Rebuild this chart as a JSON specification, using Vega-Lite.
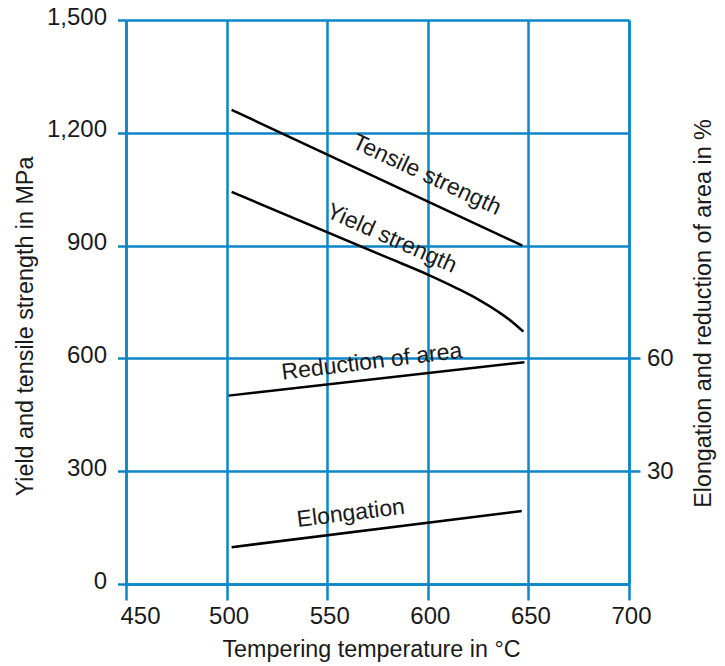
{
  "$schema": "https://vega.github.io/schema/vega-lite/v6.json",
  "width": 503,
  "height": 564,
  "autosize": "none",
  "padding": {"left": 126, "top": 20, "right": 96, "bottom": 82},
  "background": "white",
  "config": {
    "font": "Liberation Sans",
    "view": {"stroke": null},
    "axis": {
      "domainColor": "#0b87c9",
      "domainWidth": 2.5,
      "gridColor": "#0b87c9",
      "gridWidth": 2.5,
      "gridOpacity": 1,
      "tickColor": "#0b87c9",
      "tickWidth": 2.5,
      "labelFont": "Liberation Sans",
      "labelFontSize": 24,
      "labelColor": "#1a1a1a",
      "labelFlush": false,
      "labelOverlap": false,
      "titleFont": "Liberation Sans",
      "titleFontSize": 23.3,
      "titleFontWeight": "normal",
      "titleColor": "#1a1a1a"
    }
  },
  "datasets": {
    "strength": [
      {"series": "Tensile strength", "temp": 502.5, "value": 1261},
      {"series": "Tensile strength", "temp": 647, "value": 900},
      {"series": "Yield strength", "temp": 502.5, "value": 1043},
      {"series": "Yield strength", "temp": 580, "value": 868},
      {"series": "Yield strength", "temp": 600, "value": 823},
      {"series": "Yield strength", "temp": 615, "value": 785},
      {"series": "Yield strength", "temp": 625, "value": 757},
      {"series": "Yield strength", "temp": 635, "value": 724},
      {"series": "Yield strength", "temp": 642, "value": 697},
      {"series": "Yield strength", "temp": 647.5, "value": 671}
    ],
    "ductility": [
      {"series": "Reduction of area", "temp": 501, "value": 50.1},
      {"series": "Reduction of area", "temp": 648, "value": 59.0},
      {"series": "Elongation", "temp": 502.5, "value": 9.8},
      {"series": "Elongation", "temp": 646.7, "value": 19.4}
    ],
    "labels": [
      {"label": "Tensile strength", "temp": 599.5, "value": 1088},
      {"label": "Yield strength", "temp": 582, "value": 919},
      {"label": "Reduction of area", "temp": 572.2, "value": 59.1},
      {"label": "Elongation", "temp": 561.7, "value": 18.8}
    ]
  },
  "encoding": {
    "x": {
      "field": "temp",
      "type": "quantitative",
      "scale": {"domain": [450, 700], "nice": false, "zero": false},
      "axis": {
        "values": [450, 500, 550, 600, 650, 700],
        "title": "Tempering temperature in °C",
        "grid": true,
        "tickSize": 16,
        "labelPadding": 23,
        "labelBaseline": "alphabetic",
        "labelOffset": {"condition": {"test": "datum.value == 450", "value": 14}, "value": 2},
        "titleX": 245,
        "titleY": 72,
        "titleBaseline": "alphabetic"
      }
    }
  },
  "layer": [
    {
      "encoding": {
        "y": {
          "field": "value",
          "type": "quantitative",
          "scale": {"domain": [0, 1500], "nice": false},
          "axis": {
            "orient": "left",
            "values": [0, 300, 600, 900, 1200, 1500],
            "format": ",.0f",
            "grid": true,
            "title": "Yield and tensile strength in MPa",
            "tickSize": 8.5,
            "labelPadding": 11,
            "labelOffset": -3,
            "titleX": -101,
            "titleY": 306,
            "titleBaseline": "middle",
            "titleAngle": 270
          }
        }
      },
      "layer": [
        {
          "data": {"name": "strength"},
          "mark": {"type": "line", "color": "black", "strokeWidth": 2.5, "interpolate": "monotone"},
          "encoding": {"detail": {"field": "series"}}
        },
        {
          "data": {"name": "labels"},
          "transform": [{"filter": "datum.label == 'Tensile strength'"}],
          "mark": {"type": "text", "angle": 25, "fontSize": 23, "color": "#1a1a1a", "align": "center", "baseline": "middle"},
          "encoding": {"text": {"field": "label"}}
        },
        {
          "data": {"name": "labels"},
          "transform": [{"filter": "datum.label == 'Yield strength'"}],
          "mark": {"type": "text", "angle": 24, "fontSize": 23, "color": "#1a1a1a", "align": "center", "baseline": "middle"},
          "encoding": {"text": {"field": "label"}}
        }
      ]
    },
    {
      "encoding": {
        "y": {
          "field": "value",
          "type": "quantitative",
          "scale": {"domain": [0, 150], "nice": false},
          "axis": {
            "orient": "right",
            "values": [30, 60],
            "grid": false,
            "title": "Elongation and reduction of area in %",
            "tickSize": 11,
            "labelPadding": 6.5,
            "titleX": 74,
            "titleY": 293,
            "titleBaseline": "middle",
            "titleAngle": 270
          }
        }
      },
      "layer": [
        {
          "data": {"name": "ductility"},
          "mark": {"type": "line", "color": "black", "strokeWidth": 2.5},
          "encoding": {"detail": {"field": "series"}}
        },
        {
          "data": {"name": "labels"},
          "transform": [{"filter": "datum.label == 'Reduction of area'"}],
          "mark": {"type": "text", "angle": -7, "fontSize": 23, "color": "#1a1a1a", "align": "center", "baseline": "middle"},
          "encoding": {"text": {"field": "label"}}
        },
        {
          "data": {"name": "labels"},
          "transform": [{"filter": "datum.label == 'Elongation'"}],
          "mark": {"type": "text", "angle": -7, "fontSize": 23, "color": "#1a1a1a", "align": "center", "baseline": "middle"},
          "encoding": {"text": {"field": "label"}}
        }
      ]
    }
  ],
  "resolve": {"scale": {"y": "independent"}, "axis": {"y": "independent"}}
}
